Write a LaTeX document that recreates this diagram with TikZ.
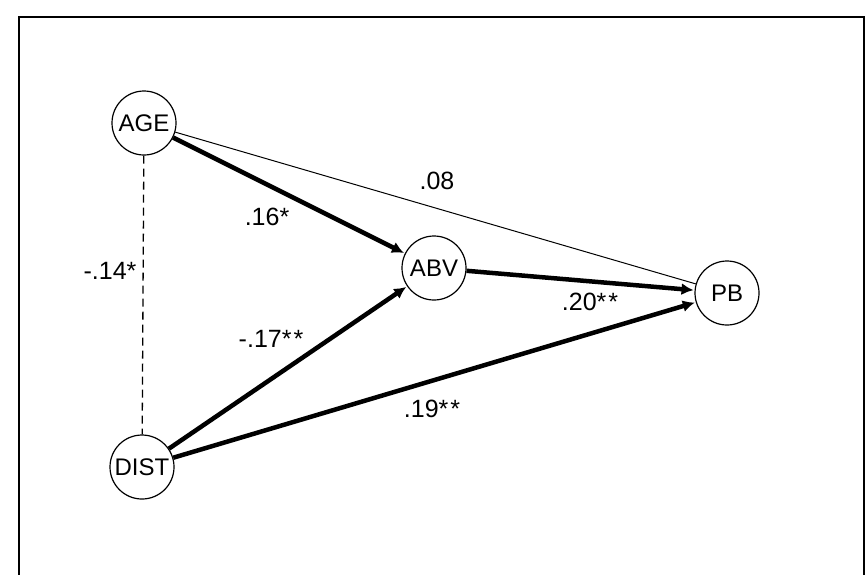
\documentclass[tikz,border=0pt]{standalone}
\usepackage{fontspec}
\setmainfont{Liberation Sans}
\usetikzlibrary{arrows.meta}
\begin{document}
\begin{tikzpicture}[x=1pt,y=-1pt,
  var/.style={circle,draw,line width=1.2pt,minimum size=64pt,inner sep=0pt,font=\fontsize{24}{28}\selectfont},
  path/.style={line width=4.5pt,-{Latex[length=12pt,width=12pt]},shorten >=1pt},
  thinpath/.style={line width=1pt},
  corr/.style={line width=1.3pt,dash pattern=on 8pt off 5pt},
  coef/.style={font=\fontsize{25}{29}\selectfont,inner sep=0pt}]
\useasboundingbox (0,0) rectangle (866,574);
\draw[line width=2.4pt] (19,590) -- (19,17) -- (864,17) -- (864,590);
\node[var] (age) at (144,123) {AGE};
\node[var] (dist) at (142,467) {DIST};
\node[var] (abv) at (434,268) {ABV};
\node[var] (pb) at (727,293) {PB};
\draw[corr] (age) -- (dist);
\draw[thinpath] (age) -- (pb);
\draw[path] (age) -- (abv);
\draw[path] (dist) -- (abv);
\draw[path] (dist) -- (pb);
\draw[path] (abv) -- (pb);
\node[coef] (l08) at (437,181) {.08};
\node[coef] (l16) at (267,217) {.16*};
\node[coef] (l14) at (110,271) {-.14*};
\node[coef] (l17) at (271,339) {-.17*\kern2pt*};
\node[coef] (l20) at (590,302) {.20*\kern2pt*};
\node[coef] (l19) at (432,409) {.19*\kern2pt*};
\end{tikzpicture}
\end{document}
